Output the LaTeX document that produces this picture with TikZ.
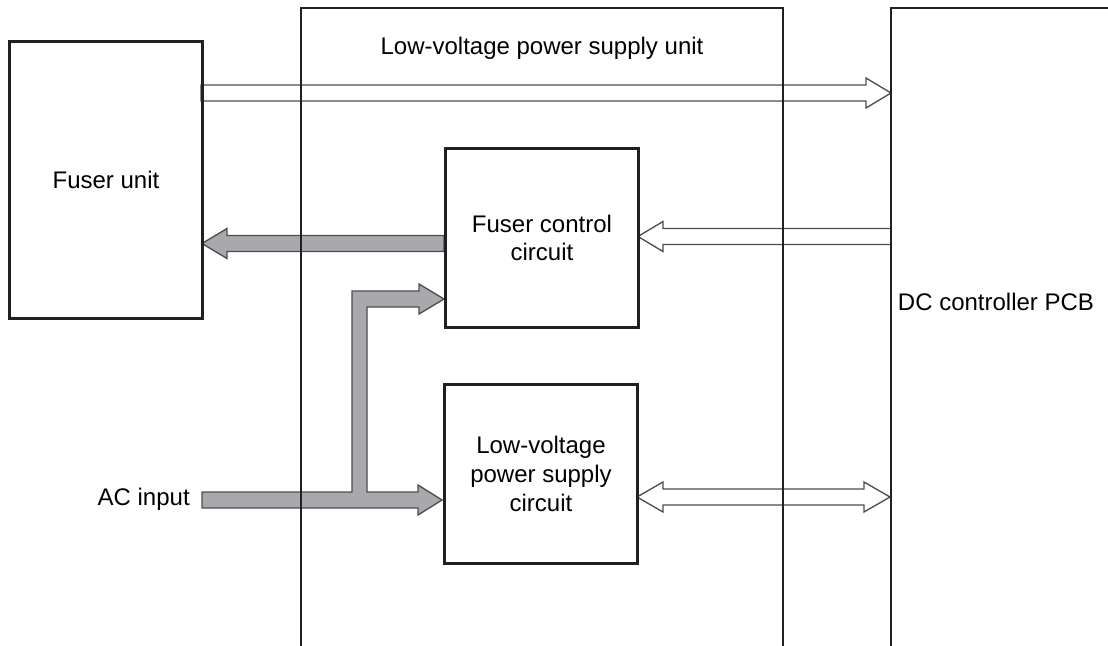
\documentclass[tikz,border=0pt]{standalone}
\usepackage{fontspec}
\setmainfont{Liberation Sans}
\usetikzlibrary{calc}
\definecolor{boxline}{HTML}{231F20}
\definecolor{arrline}{HTML}{4D4D4F}
\definecolor{arrgray}{HTML}{A7A9AC}
\tikzset{
  blk/.style={draw=boxline, line width=2.2pt, fill=none, inner sep=0pt},
  lbl/.style={font=\fontsize{18}{21.5}\selectfont, align=center, text=black, inner sep=0pt},
  arr/.style={draw=arrline, line width=1pt, line join=miter},
}
% right-pointing arrow polygon: #1 start x, #2 tip x, #3 centre y, #4 fill
\newcommand\rarr[4]{\filldraw[arr,fill=#4] (#1,#3-8) -- (#2-25,#3-8) -- (#2-25,#3-15) -- (#2,#3) -- (#2-25,#3+15) -- (#2-25,#3+8) -- (#1,#3+8) -- cycle;}
\newcommand\larr[4]{\filldraw[arr,fill=#4] (#1,#3-8) -- (#2+25,#3-8) -- (#2+25,#3-15) -- (#2,#3) -- (#2+25,#3+15) -- (#2+25,#3+8) -- (#1,#3+8) -- cycle;}
\begin{document}
\begin{tikzpicture}[x=0.75pt,y=-0.75pt]
\useasboundingbox (0,0) rectangle (1108,646);
% coordinates of boxes
\coordinate (fuNW) at (8,40);   \coordinate (fuSE) at (201,317);
\coordinate (lvNW) at (301,8);  \coordinate (lvSE) at (783,700);
\coordinate (dcNW) at (891,8);  \coordinate (dcSE) at (1140,700);
\coordinate (fcNW) at (444,147); \coordinate (fcSE) at (637,326);
\coordinate (lcNW) at (443,383); \coordinate (lcSE) at (636,562);
% arrows (drawn under box borders)
\rarr{201}{891}{93}{white}
\larr{444}{202}{243.5}{arrgray}
\larr{891}{638}{236.5}{white}
% double arrow
\filldraw[arr,fill=white] (637,497) -- (663,482) -- (663,489) -- (864,489) -- (864,482) -- (890,497) -- (864,512) -- (864,505) -- (663,505) -- (663,512) -- cycle;
% AC input branching arrow
\filldraw[arr,fill=arrgray] (202,492) -- (352,492) -- (352,291) -- (419,291) -- (419,284) -- (444,299) -- (419,314) -- (419,307) -- (367,307) -- (367,492) -- (418,492) -- (418,485) -- (442,500) -- (418,515) -- (418,508) -- (202,508) -- cycle;
% boxes
\node[blk, fit/.style={}, minimum width=193*0.75pt, minimum height=277*0.75pt, anchor=north west] (fuser) at (fuNW) {};
\draw[blk] (lvSE |- 0,660) -- (783,8) -- (301,8) -- (301,660);
\coordinate (lvps) at (542,48);
\draw[blk] (1120,8) -- (891,8) -- (891,660);
\coordinate (dc) at (996,302);
\node[blk, minimum width=193*0.75pt, minimum height=179*0.75pt, anchor=north west] (fcc) at (fcNW) {};
\node[blk, minimum width=193*0.75pt, minimum height=179*0.75pt, anchor=north west] (lvc) at (lcNW) {};
% labels
\node[lbl] (t1) at (lvps) {Low-voltage power supply unit};
\node[lbl] (t2) at (fuser.center) {Fuser unit};
\node[lbl] (t3) at (fcc.center) {Fuser control\\circuit};
\node[lbl] (t4) at (lvc.center) {Low-voltage\\power supply\\circuit};
\node[lbl] (t5) at (dc) {DC controller PCB};
\node[lbl, anchor=east] (t6) at (190,499) {AC input};
\end{tikzpicture}
\end{document}
